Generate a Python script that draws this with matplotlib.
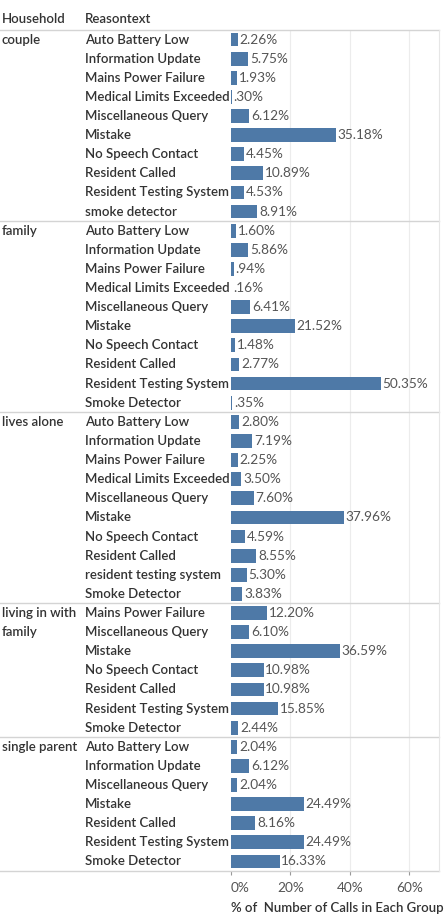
import matplotlib.pyplot as plt
import matplotlib.transforms as mtransforms

households = ["couple", "family", "lives alone", "living in with\nfamily", "single parent"]

reasons_couple = ["Auto Battery Low", "Information Update", "Mains Power Failure",
                  "Medical Limits Exceeded", "Miscellaneous Query", "Mistake",
                  "No Speech Contact", "Resident Called", "Resident Testing System",
                  "smoke detector"]
values_couple = [2.26, 5.75, 1.93, 0.30, 6.12, 35.18, 4.45, 10.89, 4.53, 8.91]

reasons_family = ["Auto Battery Low", "Information Update", "Mains Power Failure",
                  "Medical Limits Exceeded", "Miscellaneous Query", "Mistake",
                  "No Speech Contact", "Resident Called", "Resident Testing System",
                  "Smoke Detector"]
values_family = [1.60, 5.86, 0.94, 0.16, 6.41, 21.52, 1.48, 2.77, 50.35, 0.35]

reasons_alone = ["Auto Battery Low", "Information Update", "Mains Power Failure",
                 "Medical Limits Exceeded", "Miscellaneous Query", "Mistake",
                 "No Speech Contact", "Resident Called", "resident testing system",
                 "Smoke Detector"]
values_alone = [2.80, 7.19, 2.25, 3.50, 7.60, 37.96, 4.59, 8.55, 5.30, 3.83]

reasons_living = ["Mains Power Failure", "Miscellaneous Query", "Mistake",
                  "No Speech Contact", "Resident Called", "Resident Testing System",
                  "Smoke Detector"]
values_living = [12.20, 6.10, 36.59, 10.98, 10.98, 15.85, 2.44]

reasons_single = ["Auto Battery Low", "Information Update", "Miscellaneous Query",
                  "Mistake", "Resident Called", "Resident Testing System", "Smoke Detector"]
values_single = [2.04, 6.12, 2.04, 24.49, 8.16, 24.49, 16.33]

groups = [
    (households[0], reasons_couple, values_couple),
    (households[1], reasons_family, values_family),
    (households[2], reasons_alone, values_alone),
    (households[3], reasons_living, values_living),
    (households[4], reasons_single, values_single),
]

ticks = [0, 20, 40, 60]

W, H = 446, 914
plt.rcParams['font.family'] = ['Lato', 'DejaVu Sans']
fig = plt.figure(figsize=(W / 100, H / 100), dpi=100)

left, right, top, bottom = 231, 439, 30, 871
ax = fig.add_axes([left / W, 1 - bottom / H, (right - left) / W, (bottom - top) / H])

n_rows = sum(len(g[1]) for g in groups)
ax.set_ylim(n_rows, 0)
ax.set_xlim(0, 70)

bar_color = "#4e79a7"
text_col = "#333333"
line_col = "#d4d4d4"
fs = 9.5

# x in figure coords, y in data rows
trans = mtransforms.blended_transform_factory(fig.transFigure, ax.transData)

def fmt(v):
    s = "%.2f%%" % v
    return s[1:] if s.startswith("0") else s

row = 0
for gname, reasons, vals in groups:
    for i, part in enumerate(gname.split("\n")):
        ax.text(2 / W, row + 0.5 + i, part, transform=trans, ha="left", va="center",
                fontsize=fs, color=text_col, fontweight="semibold")
    for r, v in zip(reasons, vals):
        y = row + 0.5
        ax.barh(y, v, height=0.72, color=bar_color)
        ax.text(v + 0.6, y, fmt(v), va="center", ha="left", fontsize=9.8,
                color="#555555")
        ax.text(85 / W, y, r, transform=trans, ha="left", va="center",
                fontsize=fs, color=text_col, fontweight="semibold")
        row += 1
    # separator line across the whole width
    ax.plot([0, right / W], [row, row], transform=trans, color=line_col,
            lw=1, clip_on=False)

# header line and headers
ax.plot([0, right / W], [0, 0], transform=trans, color=line_col, lw=1, clip_on=False)
ax.text(2 / W, -0.55, "Household", transform=trans, ha="left", va="center",
        fontsize=fs, color=text_col, fontweight="semibold")
ax.text(85 / W, -0.55, "Reasontext", transform=trans, ha="left", va="center",
        fontsize=fs, color=text_col, fontweight="semibold")

for t in ticks[1:]:
    ax.axvline(t, color="#ececec", lw=0.8, zorder=0)

for s in ["top", "left", "bottom"]:
    ax.spines[s].set_visible(False)
ax.spines["right"].set_color("#e6e6e6")
ax.set_yticks([])
ax.set_xticks(ticks)
ax.set_xticklabels(["%d%%" % t for t in ticks], fontsize=9.8, color="#555555")
ax.get_xticklabels()[0].set_horizontalalignment("left")
ax.tick_params(axis="x", length=3, color="#999999", pad=5)
ax.set_xlabel("% of  Number of Calls in Each Group", fontsize=fs, color=text_col,
              fontweight="semibold", labelpad=6, loc="left")

fig.savefig("out.png", dpi=100)
